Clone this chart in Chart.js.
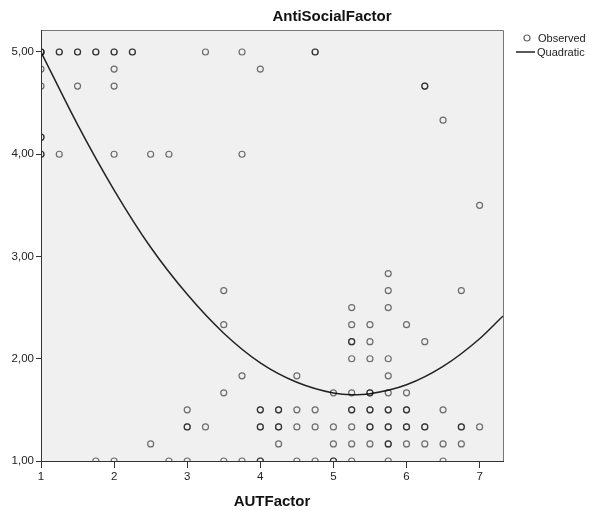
<!DOCTYPE html>
<html>
<head>
<meta charset="utf-8">
<title>AntiSocialFactor</title>
<script src="https://cdn.jsdelivr.net/npm/chart.js@4/dist/chart.umd.min.js"></script>
<style>
  body { margin: 0; background: #fff; }
</style>
</head>
<body>
<canvas id="myChart" width="590" height="511"></canvas>
<script>
// Observed cases, one entry per case (stacked cases repeat)
const obsX = [
  1, 1, 1, 1.25, 1.25, 1.5, 1.5, 1.75, 1.75, 2, 2, 2.25, 2.25, 3.25, 3.75, 4.75, 4.75,
  1, 2, 4,
  1, 1.5, 2, 6.25, 6.25,
  6.5,
  1, 1,
  1, 1, 1.25, 2, 2.5, 2.75, 3.75,
  7,
  5.75,
  3.5, 5.75, 6.75,
  5.25, 5.75,
  3.5, 5.25, 5.5, 6,
  5.25, 5.25, 5.5, 6.25,
  5.25, 5.5, 5.75,
  3.75, 4.5, 5.75,
  3.5, 5, 5.25, 5.5, 5.5, 5.75, 6,
  3, 4, 4, 4.25, 4.25, 4.5, 4.75, 5.25, 5.25, 5.5, 5.5, 5.75, 5.75, 6, 6, 6.5,
  3, 3, 3.25, 4, 4, 4.25, 4.25, 4.5, 4.75, 5, 5.25, 5.5, 5.5, 5.75, 5.75, 6, 6, 6.25, 6.25, 6.75, 6.75, 7,
  2.5, 4.25, 5, 5.25, 5.5, 5.75, 5.75, 6, 6.25, 6.5, 6.75,
  1.75, 2, 2.75, 3, 3.5, 3.75, 4, 4, 4.5, 4.75, 5, 5, 5.25, 5.75, 6.5
];
const obsY = [
  5, 5, 5, 5, 5, 5, 5, 5, 5, 5, 5, 5, 5, 5, 5, 5, 5,
  4.833, 4.833, 4.833,
  4.667, 4.667, 4.667, 4.667, 4.667,
  4.333,
  4.167, 4.167,
  4, 4, 4, 4, 4, 4, 4,
  3.5,
  2.833,
  2.667, 2.667, 2.667,
  2.5, 2.5,
  2.333, 2.333, 2.333, 2.333,
  2.167, 2.167, 2.167, 2.167,
  2, 2, 2,
  1.833, 1.833, 1.833,
  1.667, 1.667, 1.667, 1.667, 1.667, 1.667, 1.667,
  1.5, 1.5, 1.5, 1.5, 1.5, 1.5, 1.5, 1.5, 1.5, 1.5, 1.5, 1.5, 1.5, 1.5, 1.5, 1.5,
  1.333, 1.333, 1.333, 1.333, 1.333, 1.333, 1.333, 1.333, 1.333, 1.333, 1.333, 1.333, 1.333, 1.333, 1.333, 1.333, 1.333, 1.333, 1.333, 1.333, 1.333, 1.333,
  1.167, 1.167, 1.167, 1.167, 1.167, 1.167, 1.167, 1.167, 1.167, 1.167, 1.167,
  1, 1, 1, 1, 1, 1, 1, 1, 1, 1, 1, 1, 1, 1, 1
];

// Quadratic fit line
const fitX = [1, 1.5, 2, 2.5, 3, 3.5, 4, 4.5, 5, 5.25, 5.5, 6, 6.5, 7, 7.32];
const fitY = [5.0, 4.29, 3.65, 3.09, 2.63, 2.25, 1.96, 1.77, 1.665, 1.648, 1.658, 1.745, 1.925, 2.196, 2.418];

// Axis ticks
const xTicks = [1, 2, 3, 4, 5, 6, 7];
const yTicks = [1, 2, 3, 4, 5];

const chartTitle = 'AntiSocialFactor';
const xTitle = 'AUTFactor';

const FONT = '"Liberation Sans", Arial, sans-serif';

// Grey plot area + frame, titles and the little legend on the right
const spssFrame = {
  id: 'spssFrame',
  beforeDatasetsDraw(chart) {
    const { ctx, chartArea: a } = chart;
    ctx.save();
    ctx.fillStyle = '#f0f0f0';
    ctx.fillRect(a.left, a.top, a.right - a.left, a.bottom - a.top);
    ctx.strokeStyle = '#777';
    ctx.lineWidth = 1;
    ctx.beginPath();
    ctx.moveTo(a.left, a.top + 0.5);
    ctx.lineTo(a.right + 0.5, a.top + 0.5);
    ctx.lineTo(a.right + 0.5, a.bottom);
    ctx.stroke();
    ctx.restore();
  },
  afterDraw(chart) {
    const { ctx, chartArea: a } = chart;
    const ds = chart.data.datasets;
    ctx.save();
    ctx.fillStyle = '#111';
    ctx.font = 'bold 15px ' + FONT;
    ctx.textAlign = 'center';
    ctx.textBaseline = 'alphabetic';
    ctx.fillText(chartTitle, 332, 21);
    ctx.fillText(xTitle, (a.left + a.right) / 2, 506);

    // legend
    ctx.font = '11px ' + FONT;
    ctx.textAlign = 'left';
    ctx.textBaseline = 'middle';
    ctx.fillStyle = '#222';
    ctx.strokeStyle = 'rgba(0,0,0,0.6)';
    ctx.lineWidth = 1.2;
    ctx.beginPath();
    ctx.arc(527, 38, 3, 0, Math.PI * 2);
    ctx.stroke();
    ctx.fillText(ds[0].label, 538, 39);
    ctx.strokeStyle = '#222';
    ctx.lineWidth = 1.5;
    ctx.beginPath();
    ctx.moveTo(516, 52);
    ctx.lineTo(535, 52);
    ctx.stroke();
    ctx.fillText(ds[1].label, 537, 52.5);
    ctx.restore();
  }
};

function chartIt() {
  const ctx = document.getElementById('myChart').getContext('2d');
  new Chart(ctx, {
    type: 'scatter',
    data: {
      datasets: [{
        label: 'Observed',
        data: obsX.map((x, i) => ({ x: x, y: obsY[i] })),
        clip: 0,
        pointStyle: 'circle',
        pointRadius: 3,
        pointHoverRadius: 3,
        borderWidth: 1.2,
        borderColor: 'rgba(0,0,0,0.55)',
        backgroundColor: 'rgba(0,0,0,0)'
      }, {
        label: 'Quadratic',
        data: fitX.map((x, i) => ({ x: x, y: fitY[i] })),
        showLine: true,
        cubicInterpolationMode: 'monotone',
        clip: 0,
        pointRadius: 0,
        borderColor: '#222',
        borderWidth: 1.5
      }]
    },
    options: {
      responsive: false,
      devicePixelRatio: 1,
      animation: false,
      layout: { padding: { top: 30, right: 87, left: 0, bottom: 0 } },
      plugins: {
        legend: { display: false },
        title: { display: false },
        tooltip: { enabled: false }
      },
      scales: {
        x: {
          type: 'linear',
          min: 1,
          max: 7.32,
          afterBuildTicks: (scale) => { scale.ticks = xTicks.map(v => ({ value: v })); },
          afterFit: (scale) => { scale.height = 50; },
          grid: { drawOnChartArea: false, tickLength: 7, color: '#333' },
          border: { color: '#333', width: 1, z: 1 },
          ticks: {
            autoSkip: false,
            maxRotation: 0,
            padding: 2,
            color: '#222',
            font: { family: FONT, size: 11.5 }
          }
        },
        y: {
          type: 'linear',
          min: 1,
          max: 5.215,
          afterBuildTicks: (scale) => { scale.ticks = yTicks.map(v => ({ value: v })); },
          afterFit: (scale) => { scale.width = 41; },
          grid: { drawOnChartArea: false, tickLength: 5, color: '#333' },
          border: { color: '#333', width: 1, z: 1 },
          ticks: {
            padding: 2,
            color: '#222',
            font: { family: FONT, size: 11.5 },
            callback: (v) => v.toFixed(2).replace('.', ',')
          }
        }
      }
    },
    plugins: [spssFrame]
  });
}

chartIt();
</script>
</body>
</html>
